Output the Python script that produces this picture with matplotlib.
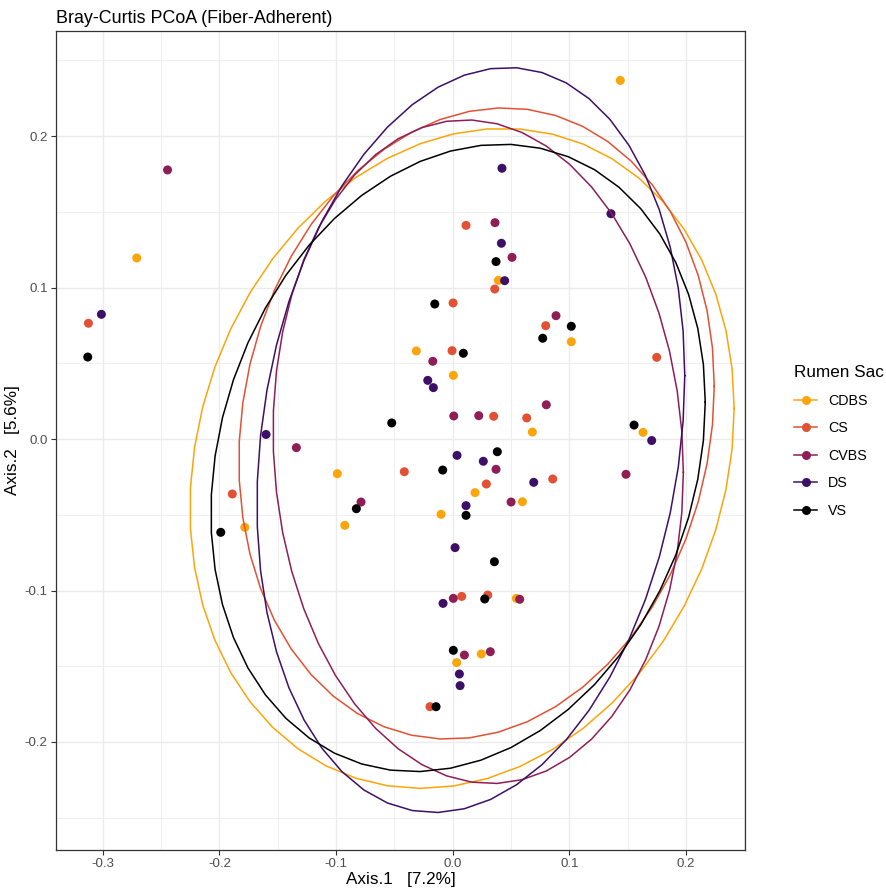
import matplotlib
matplotlib.use("Agg")
import matplotlib.pyplot as plt
from matplotlib.lines import Line2D
import numpy as np

plt.rcParams['font.family'] = ['Liberation Sans', 'DejaVu Sans']

# PCoA coordinates, one pair of lists per rumen sac
groups = ["CDBS", "CS", "CVBS", "DS", "VS"]
colors = ["#FCA50A", "#E25134", "#8E1E55", "#3D0F66", "#000000"]

cdbs_x = [-0.2708, 0.1436, 0.0391, 0.1016, -0.0312, 0.0005, 0.0682, 0.1631, 0.0191,
          0.0597, -0.0100, 0.0545, 0.0245, 0.0034, -0.0989, -0.0925, -0.1782]
cdbs_y = [0.1195, 0.2367, 0.1047, 0.0642, 0.0581, 0.0420, 0.0046, 0.0044, -0.0354,
          -0.0414, -0.0497, -0.1052, -0.1419, -0.1476, -0.0229, -0.0570, -0.0583]

cs_x = [-0.3122, 0.0114, 0.0360, 0.0003, 0.0797, -0.0006, 0.1748, 0.0351, 0.0634,
        -0.0415, 0.0857, 0.0288, 0.0077, 0.0300, -0.0195, -0.1889]
cs_y = [0.0764, 0.1410, 0.0990, 0.0898, 0.0748, 0.0583, 0.0539, 0.0150, 0.0139,
        -0.0216, -0.0264, -0.0297, -0.1039, -0.1030, -0.1767, -0.0363]

cvbs_x = [-0.2444, 0.0362, 0.0508, 0.0885, -0.0171, 0.0009, 0.0223, 0.0802, 0.0371,
          0.1485, 0.0500, 0.0005, 0.0574, 0.0100, 0.0322, -0.1340, -0.0786]
cvbs_y = [0.1776, 0.1428, 0.1199, 0.0814, 0.0513, 0.0152, 0.0154, 0.0226, -0.0200,
          -0.0233, -0.0416, -0.1052, -0.1058, -0.1426, -0.1404, -0.0057, -0.0416]

ds_x = [-0.3011, -0.1600, 0.0422, 0.1356, 0.0417, 0.0445, -0.0214, -0.0166, 0.1705,
        0.0037, 0.0262, 0.0694, 0.0114, 0.0020, -0.0083, 0.0057, 0.0063]
ds_y = [0.0823, 0.0030, 0.1787, 0.1487, 0.1292, 0.1045, 0.0387, 0.0339, -0.0010,
        -0.0108, -0.0147, -0.0286, -0.0440, -0.0717, -0.1085, -0.1551, -0.1628]

vs_x = [-0.3128, -0.0523, 0.0371, -0.0154, 0.1016, 0.0771, 0.0091, 0.1554, 0.0382,
        -0.0086, 0.0114, 0.0357, 0.0274, 0.0005, -0.0143, -0.0826, -0.1988]
vs_y = [0.0541, 0.0106, 0.1171, 0.0891, 0.0744, 0.0665, 0.0566, 0.0092, -0.0084,
        -0.0205, -0.0504, -0.0810, -0.1056, -0.1395, -0.1767, -0.0460, -0.0616]

xs = [cdbs_x, cs_x, cvbs_x, ds_x, vs_x]
ys = [cdbs_y, cs_y, cvbs_y, ds_y, vs_y]


def cov_trob(xy, nu=5, maxit=25, tol=0.01):
    # multivariate t estimate of centre and scatter, as MASS::cov.trob
    n, p = xy.shape
    wt = np.ones(n)
    loc = xy.mean(axis=0)
    w = np.sqrt(wt)
    for _ in range(maxit):
        w0 = w
        X = xy - loc
        sw = np.sqrt(w / w.sum())
        _, d, vt = np.linalg.svd(sw[:, None] * X, full_matrices=False)
        wX = X @ vt.T @ np.diag(1 / d)
        Q = (wX ** 2).sum(axis=1)
        w = wt * (nu + p) / (nu + Q)
        loc = (w[:, None] * xy).sum(axis=0) / w.sum()
        if np.all(np.abs(w - w0) < tol):
            break
    sX = np.sqrt(w)[:, None] * X
    return sX.T @ sX / wt.sum(), loc


def ellipse(x, y, level=0.95, segments=51):
    xy = np.column_stack([x, y])
    shape, center = cov_trob(xy)
    dfd = len(x) - 1
    qf = dfd / 2 * ((1 - level) ** (-2 / dfd) - 1)  # F quantile, 2 numerator df
    radius = np.sqrt(2 * qf)
    R = np.linalg.cholesky(shape).T
    ang = np.arange(segments + 1) * 2 * np.pi / segments
    circ = np.column_stack([np.cos(ang), np.sin(ang)])
    e = center + radius * (circ @ R)
    return e[:, 0], e[:, 1]


fig = plt.figure(figsize=(8.86, 8.94), dpi=100)
ax = fig.add_axes([0.0632, 0.0492, 0.7777, 0.9161])

for g, c, x, y in zip(groups, colors, xs, ys):
    ax.scatter(x, y, s=42, color=c, edgecolors='none', zorder=3)
for g, c, x, y in zip(groups, colors, xs, ys):
    ex, ey = ellipse(np.array(x), np.array(y))
    ax.plot(ex, ey, color=c, lw=1.1, zorder=4)

ax.set_xticks([-0.3, -0.2, -0.1, 0.0, 0.1, 0.2])
ax.set_yticks([-0.2, -0.1, 0.0, 0.1, 0.2])
ax.set_xticks(np.arange(-0.35, 0.26, 0.05), minor=True)
ax.set_yticks(np.arange(-0.25, 0.26, 0.05), minor=True)
ax.set_xticklabels(["-0.3", "-0.2", "-0.1", "0.0", "0.1", "0.2"])
ax.set_yticklabels(["-0.2", "-0.1", "0.0", "0.1", "0.2"])
ax.set_xlim(-0.34, 0.2505)
ax.set_ylim(-0.2713, 0.2693)
ax.grid(True, which='major', color='#EBEBEB', lw=1.0, zorder=0)
ax.grid(True, which='minor', color='#EBEBEB', lw=0.55, zorder=0)
ax.set_axisbelow(True)
ax.tick_params(which='major', length=3.5, width=0.8, color='#333333',
               labelsize=9.5, labelcolor='#4D4D4D', pad=2.5)
ax.tick_params(which='minor', length=0)
for sp in ax.spines.values():
    sp.set_color('#333333')
    sp.set_linewidth(0.9)

ax.set_xlabel("Axis.1   [7.2%]", fontsize=12.3, labelpad=1)
ax.set_ylabel("Axis.2   [5.6%]", fontsize=12.3, labelpad=3)
ax.set_title("Bray-Curtis PCoA (Fiber-Adherent)", fontsize=12.9, loc='left', pad=6)

handles = [Line2D([0], [0], color=c, lw=1.1, marker='o', markersize=6.5,
                  markeredgewidth=0) for c in colors]
leg = fig.legend(handles, groups, title="Rumen Sac", loc='upper left',
                 bbox_to_anchor=(0.882, 0.606), frameon=False, fontsize=10.3,
                 title_fontsize=12.3, handlelength=1.6, labelspacing=0.95,
                 handletextpad=0.75)
leg._legend_box.align = "left"

fig.savefig("out.png", dpi=100)
